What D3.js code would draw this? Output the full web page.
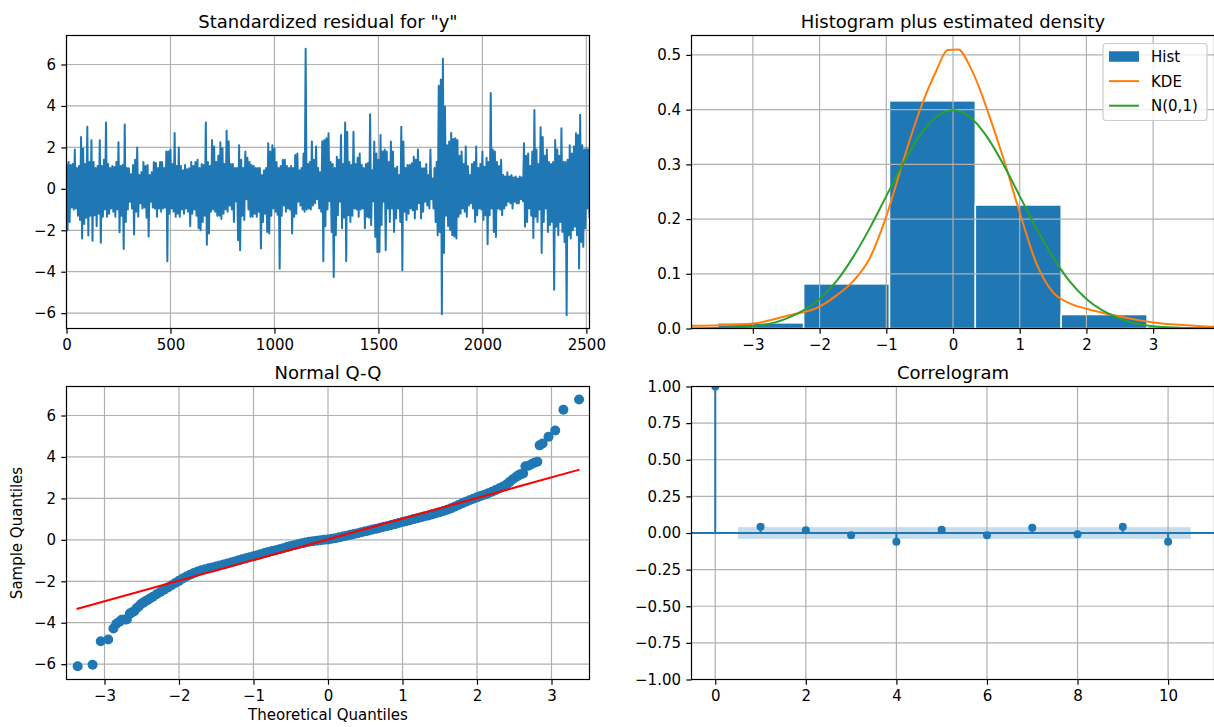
<!DOCTYPE html>
<html>
<head>
<meta charset="utf-8">
<script src="https://cdn.jsdelivr.net/npm/d3@7"></script>
<style>
  body { margin: 0; background: #fff; }
  text { font-family: "DejaVu Sans", sans-serif; fill: #000; }
</style>
</head>
<body>
<div id="fig"></div>
<script>
var residStep = 10;
var residHi = [
  1.2, 1.3, 1.15, 1.2, 1.9, 1.0, 1.1, 2.5, 1.95, 1.2,
  3.0, 1.3, 2.35, 1.3, 1.0, 1.1, 2.35, 1.1, 1.4, 3.2,
  1.2, 1.0, 1.1, 1.05, 1.3, 2.25, 1.1, 1.15, 3.1, 1.0,
  0.99, 0.7, 1.15, 1.4, 2.0, 0.67, 0.8, 1.3, 1.1, 1.15,
  0.67, 0.8, 1.3, 1.25, 1.0, 1.3, 1.3, 1.0, 1.8, 1.8,
  1.9, 1.2, 2.7, 1.1, 2.0, 1.1, 0.9, 1.15, 0.95, 0.99,
  1.3, 1.1, 1.3,
  1.4, 1.0, 1.2, 1.15, 3.2, 1.3, 1.1, 2.36, 2.04, 1.3,
  1.6, 2.25, 1.96, 1.2, 2.8, 2.3, 1.2, 1.2, 1.0, 1.0,
  2.1, 1.4, 1.0, 1.8, 1.5, 1.3, 1.15, 1.1, 1.0, 1.0,
  1.0, 0.67, 0.9, 1.0, 2.2, 1.8, 2.1, 1.95, 1.3, 1.0,
  1.1, 1.4, 1.4, 1.1, 1.0, 1.1, 1.0, 1.63, 1.7, 0.9,
  1.0, 1.7, 6.76, 1.2, 1.3, 2.28, 1.4, 2.04, 1.0, 0.8,
  2.3, 2.36,
  2.44, 2.68, 1.3, 1.2, 1.0,
  1.55, 1.4, 2.6, 1.2, 3.2, 2.76, 1.3, 1.15, 2.76, 1.2,
  1.5, 1.7, 1.15, 1.0, 1.2, 1.25, 3.6, 0.9, 2.28, 1.7,
  1.4, 2.6, 1.8, 1.9, 1.8, 1.3, 2.28, 1.8, 0.99, 1.07,
  0.67, 3.0, 2.28, 1.0, 1.15, 1.15, 1.23, 1.55, 1.4, 1.9,
  1.3, 0.99, 0.99, 1.2, 0.67, 1.9, 0.5, 1.0, 1.3, 4.97,
  5.28, 6.28, 3.97, 2.1, 2.28, 2.7, 2.4, 2.44,
  2.36, 1.6,
  1.8, 1.2, 2.04, 1.1, 0.67, 1.2, 1.3, 2.04, 1.0, 1.2,
  1.8, 1.07, 1.5, 1.3, 4.62, 1.9, 1.8, 1.3, 1.1, 1.4,
  0.67, 0.6, 0.8, 0.6, 0.67, 0.55, 0.6, 0.5, 0.6, 0.55,
  2.2, 1.6, 1.7, 1.1, 1.8, 3.8, 1.9, 1.2, 2.97, 2.5,
  1.6, 1.9, 1.3, 1.2, 1.3, 2.36, 1.9, 1.6, 2.92, 1.3,
  1.3, 1.4, 2.1, 1.7, 2.04, 2.68, 2.6, 3.57, 2.1, 1.9,
  1.96, 1.9
];
var residLo = [
  -2.0, -1.6, -0.9, -1.0, -0.95, -1.3, -1.5, -2.4, -1.7, -1.4,
  -2.25, -1.3, -2.5, -1.27, -1.8, -1.2, -2.6, -1.35, -1.0, -1.35,
  -1.2, -0.95, -1.1, -1.35, -1.0, -2.1, -1.3, -2.9, -1.6, -1.0,
  -0.62, -0.95, -2.2, -1.1, -1.35, -0.7, -0.95, -0.9, -1.4, -2.3,
  -0.62, -0.9, -0.95, -1.35, -0.95, -1.1, -0.95, -0.9, -3.5, -1.2,
  -0.95, -1.1, -1.35, -1.2, -1.35, -1.0, -1.2, -0.95, -1.1, -1.8,
  -1.2, -1.0, -1.3,
  -1.9, -2.0, -1.6, -1.3, -2.7, -2.16, -1.1, -1.0, -1.1, -1.3,
  -1.3, -1.45, -1.2, -1.0, -1.1, -0.8, -1.0, -1.6, -0.6, -2.48,
  -2.96, -1.3, -1.5, -0.5, -1.0, -1.35, -1.35, -1.2, -1.35, -1.1,
  -2.88, -1.6, -1.2, -2.08, -2.16, -1.3, -0.95, -1.1, -1.25, -3.85,
  -1.3, -0.8, -1.1, -0.95, -1.0, -2.16, -1.35, -1.2, -0.62, -0.8,
  -1.0, -1.1, -1.0, -0.95, -1.0, -0.8, -0.7, -0.5, -0.95, -1.1,
  -3.5, -1.8,
  -1.0, -0.6, -2.08, -4.25, -2.24,
  -1.27, -0.62, -1.9, -1.4, -3.5, -1.27, -1.6, -1.3, -0.95, -1.0,
  -1.35, -1.0, -0.95, -1.9, -1.35, -1.4, -1.75, -0.6, -2.32, -3.05,
  -3.05, -1.75, -0.62, -2.96, -0.95, -1.6, -0.95, -2.08, -1.43, -0.95,
  -1.6, -3.93, -1.1, -1.5, -1.2, -0.95, -1.03, -1.43, -1.0, -0.7,
  -1.43, -1.1, -0.62, -0.8, -0.95, -0.5, -0.95, -1.6, -2.24, -2.08,
  -6.05, -3.1, -1.3, -1.8, -2.0, -2.24, -2.3, -2.4,
  -1.35, -1.2,
  -0.95, -1.1, -1.35, -0.8, -0.7, -0.95, -1.6, -1.27, -0.95, -1.0,
  -1.5, -1.27, -2.67, -1.27, -0.95, -2.08, -2.32, -0.95, -1.0, -1.27,
  -0.95, -0.8, -0.62, -0.7, -0.95, -0.62, -0.7, -0.7, -0.5, -0.6,
  -1.83, -1.6, -0.95, -1.3, -2.37, -1.35, -1.6, -1.0, -3.1, -1.6,
  -0.95, -2.08, -1.75, -1.6, -4.87, -1.83, -2.24, -1.6, -2.08, -2.56,
  -6.1, -2.24, -2.4, -2.0, -1.83, -2.24, -3.85, -2.56, -2.8, -1.9,
  -0.95, -1.4
];

// Histogram (density) and curves
var histEdges = [-6.10, -4.813, -3.526, -2.239, -0.952, 0.335, 1.622, 2.909, 4.196, 5.483, 6.77];
var histDensity = [0.0006, 0.0022, 0.0103, 0.0815, 0.416, 0.2257, 0.0255, 0.0035, 0.0012, 0.0009];
var kdeX = [-3.92, -3.5, -3.0, -2.5, -2.0, -1.75, -1.5, -1.25, -1.0, -0.75, -0.5, -0.25, -0.08,
            0.08, 0.25, 0.4, 0.5, 0.75, 1.0, 1.25, 1.5, 1.75, 2.0, 2.5, 3.0, 3.5, 3.92];
var kdeY = [0.005, 0.006, 0.009, 0.023, 0.040, 0.060, 0.086, 0.128, 0.205, 0.305, 0.398, 0.471, 0.509,
            0.51, 0.48, 0.438, 0.404, 0.313, 0.212, 0.119, 0.066, 0.046, 0.036, 0.022, 0.011, 0.006, 0.003];
var normX = [-3.92, -3.5, -3.0, -2.5, -2.0, -1.75, -1.5, -1.25, -1.0, -0.75, -0.5, -0.25, 0,
             0.25, 0.5, 0.75, 1.0, 1.25, 1.5, 1.75, 2.0, 2.5, 3.0, 3.5, 3.92];
var normY = [0.0002, 0.0009, 0.004, 0.018, 0.054, 0.086, 0.13, 0.183, 0.242, 0.301, 0.352, 0.387, 0.399,
             0.387, 0.352, 0.301, 0.242, 0.183, 0.13, 0.086, 0.054, 0.018, 0.004, 0.0009, 0.0002];

// Normal Q-Q points
var qqTheo = [
  -3.36, -3.16, -3.05, -2.95, -2.88, -2.84, -2.80, -2.77, -2.73, -2.70,
  -2.66, -2.63, -2.60, -2.57, -2.54, -2.51, -2.48, -2.45, -2.42, -2.39,
  -2.35, -2.30, -2.25, -2.20, -2.15, -2.10, -2.05, -2.00, -1.95, -1.90,
  -1.85, -1.80, -1.75, -1.70, -1.65, -1.60, -1.55, -1.50, -1.45, -1.40,
  -1.35, -1.30, -1.25, -1.20, -1.15, -1.10, -1.05, -1.00, -0.95, -0.90,
  -0.85, -0.80, -0.75, -0.70, -0.65, -0.60, -0.55, -0.50, -0.45, -0.40,
  -0.35, -0.30, -0.25, -0.20, -0.15, -0.10, -0.05, 0.00, 0.05, 0.10,
  0.15, 0.20, 0.25, 0.30, 0.35, 0.40, 0.45, 0.50, 0.55, 0.60,
  0.65, 0.70, 0.75, 0.80, 0.85, 0.90, 0.95, 1.00, 1.05, 1.10,
  1.15, 1.20, 1.25, 1.30, 1.35, 1.40, 1.45, 1.50, 1.55, 1.60,
  1.65, 1.70, 1.75, 1.80, 1.85, 1.90, 1.95, 2.00, 2.05, 2.10,
  2.15, 2.20, 2.25, 2.30, 2.35, 2.40, 2.44, 2.48, 2.52, 2.55,
  2.58, 2.62, 2.65, 2.69, 2.73, 2.77, 2.81, 2.84, 2.88, 2.96,
  3.05, 3.16, 3.37
];
var qqSample = [
  -6.10, -6.03, -4.89, -4.81, -4.28, -4.05, -3.95, -3.86, -3.84, -3.84,
  -3.56, -3.50, -3.45, -3.30, -3.22, -3.10, -3.03, -2.96, -2.90, -2.83,
  -2.75, -2.63, -2.52, -2.41, -2.30, -2.19, -2.08, -1.98, -1.87, -1.77,
  -1.68, -1.60, -1.53, -1.47, -1.42, -1.37, -1.33, -1.29, -1.24, -1.19,
  -1.14, -1.09, -1.04, -0.99, -0.94, -0.89, -0.84, -0.79, -0.74, -0.69,
  -0.64, -0.59, -0.54, -0.50, -0.45, -0.40, -0.35, -0.30, -0.26, -0.21,
  -0.17, -0.13, -0.09, -0.07, -0.04, -0.02, 0.00, 0.02, 0.05, 0.08,
  0.12, 0.16, 0.20, 0.24, 0.28, 0.32, 0.37, 0.41, 0.45, 0.50,
  0.54, 0.58, 0.63, 0.67, 0.72, 0.76, 0.81, 0.86, 0.90, 0.95,
  1.00, 1.04, 1.09, 1.14, 1.18, 1.23, 1.28, 1.33, 1.39, 1.45,
  1.52, 1.60, 1.68, 1.76, 1.84, 1.91, 1.98, 2.05, 2.12, 2.18,
  2.25, 2.32, 2.40, 2.49, 2.58, 2.68, 2.80, 2.92, 3.02, 3.10,
  3.16, 3.20, 3.55, 3.58, 3.65, 3.72, 3.77, 4.56, 4.65, 4.97,
  5.28, 6.28, 6.77
];
var qqLineX = [-3.375, 3.375];
var qqLineY = [-3.34, 3.39];

// Correlogram
var acfLags = [0, 1, 2, 3, 4, 5, 6, 7, 8, 9, 10];
var acfVals = [1, 0.043, 0.018, -0.016, -0.059, 0.023, -0.016, 0.036, -0.009, 0.043, -0.059];
var acfBandX = [0.5, 10.5];
var acfConf = 0.04;

// Tick values
var residTicksX = [0, 500, 1000, 1500, 2000, 2500];
var sixTicks = [-6, -4, -2, 0, 2, 4, 6];
var histTicksX = [-3, -2, -1, 0, 1, 2, 3];
var histTicksY = [0, 0.1, 0.2, 0.3, 0.4, 0.5];
var qqTicksX = [-3, -2, -1, 0, 1, 2, 3];
var acfTicksX = [0, 2, 4, 6, 8, 10];
var acfTicksY = [-1, -0.75, -0.5, -0.25, 0, 0.25, 0.5, 0.75, 1];

var blue = "#1f77b4", orange = "#ff7f0e", green = "#2ca02c";

var svg = d3.select("#fig").append("svg")
    .attr("width", 1214)
    .attr("height", 727);
svg.append("rect").attr("width", 1214).attr("height", 727).attr("fill", "#fff");

var W = 523, H = 293;

// Draw one axes frame; returns layers for patches (below grid) and lines (above grid)
function panel(id, left, top, x, y, xt, yt, xf, yf, title) {
  var g = svg.append("g").attr("transform", "translate(" + left + "," + top + ")");
  g.append("clipPath").attr("id", id).append("rect").attr("width", W).attr("height", H);
  var back = g.append("g").attr("clip-path", "url(#" + id + ")");
  var grid = g.append("g");
  xt.forEach(function(v) {
    grid.append("line").attr("x1", x(v)).attr("x2", x(v)).attr("y1", 0).attr("y2", H);
  });
  yt.forEach(function(v) {
    grid.append("line").attr("x1", 0).attr("x2", W).attr("y1", y(v)).attr("y2", y(v));
  });
  grid.selectAll("line").attr("stroke", "#b0b0b0").attr("stroke-width", 1.2);
  var front = g.append("g").attr("clip-path", "url(#" + id + ")");

  var ax = g.append("g")
      .attr("transform", "translate(0," + H + ")")
      .call(d3.axisBottom(x).tickValues(xt).tickFormat(xf).tickSize(5.25).tickPadding(5.25));
  var ay = g.append("g")
      .call(d3.axisLeft(y).tickValues(yt).tickFormat(yf).tickSize(5.25).tickPadding(5.25));
  [ax, ay].forEach(function(a) {
    a.select(".domain").remove();
    a.selectAll("line").attr("stroke", "#000").attr("stroke-width", 1.2);
    a.selectAll("text").attr("font-size", 15);
  });
  g.append("rect")
      .attr("width", W).attr("height", H)
      .attr("fill", "none").attr("stroke", "#000").attr("stroke-width", 1.2);
  g.append("text")
      .attr("x", W / 2).attr("y", -7.5)
      .attr("text-anchor", "middle")
      .attr("font-size", 18)
      .text(title);
  return {g: g, back: back, front: front};
}

var fmtInt = d3.format("d");

// ---- Standardized residual ----
var x1 = d3.scaleLinear().domain([0, 2515]).range([0, W]);
var y1 = d3.scaleLinear().domain([-6.74, 7.40]).range([H, 0]);
var p1 = panel("c1", 66.5, 35.5, x1, y1, residTicksX, sixTicks, fmtInt, fmtInt,
               "Standardized residual for \"y\"");
var residPts = [];
residHi.forEach(function(v, i) {
  residPts.push([i * residStep, v]);
  residPts.push([i * residStep + residStep / 2, residLo[i]]);
});
p1.front.append("path")
    .datum(residPts)
    .attr("fill", "none")
    .attr("stroke", blue)
    .attr("stroke-width", 2)
    .attr("stroke-linejoin", "round")
    .attr("d", d3.line().x(function(d) { return x1(d[0]); }).y(function(d) { return y1(d[1]); }));

// ---- Histogram plus estimated density ----
var x2 = d3.scaleLinear().domain([-3.92, 3.92]).range([0, W]);
var y2 = d3.scaleLinear().domain([0, 0.5355]).range([H, 0]);
var p2 = panel("c2", 691.5, 35.5, x2, y2, histTicksX, histTicksY, fmtInt, d3.format(".1f"),
               "Histogram plus estimated density");
p2.back.selectAll("rect")
    .data(histDensity)
  .enter().append("rect")
    .attr("x", function(d, i) { return x2(histEdges[i]); })
    .attr("width", function(d, i) { return x2(histEdges[i + 1]) - x2(histEdges[i]); })
    .attr("y", function(d) { return y2(d); })
    .attr("height", function(d) { return y2(0) - y2(d); })
    .attr("fill", blue)
    .attr("stroke", "#fff")
    .attr("stroke-width", 1.5);
var curve2 = d3.line()
    .x(function(d) { return x2(d[0]); })
    .y(function(d) { return y2(d[1]); })
    .curve(d3.curveMonotoneX);
p2.front.append("path")
    .datum(kdeX.map(function(v, i) { return [v, kdeY[i]]; }))
    .attr("fill", "none").attr("stroke", orange).attr("stroke-width", 2)
    .attr("d", curve2);
p2.front.append("path")
    .datum(normX.map(function(v, i) { return [v, normY[i]]; }))
    .attr("fill", "none").attr("stroke", green).attr("stroke-width", 2)
    .attr("d", curve2);

// legend
var leg = p2.g.append("g").attr("transform", "translate(411.5,8)");
leg.append("rect")
    .attr("width", 104).attr("height", 77).attr("rx", 3)
    .attr("fill", "#fff").attr("fill-opacity", 0.8)
    .attr("stroke", "#cccccc").attr("stroke-width", 1.2);
var legItems = [
  {label: "Hist", kind: "patch", color: blue},
  {label: "KDE", kind: "line", color: orange},
  {label: "N(0,1)", kind: "line", color: green}
];
legItems.forEach(function(d, i) {
  var cy = 13 + i * 24.6;
  if (d.kind === "patch") {
    leg.append("rect").attr("x", 6).attr("y", cy - 5.25).attr("width", 30).attr("height", 10.5)
        .attr("fill", d.color);
  } else {
    leg.append("line").attr("x1", 6).attr("x2", 36).attr("y1", cy).attr("y2", cy)
        .attr("stroke", d.color).attr("stroke-width", 2);
  }
  leg.append("text").attr("x", 48).attr("y", cy).attr("dy", "0.36em")
      .attr("font-size", 15).text(d.label);
});

// ---- Normal Q-Q ----
var x3 = d3.scaleLinear().domain([-3.51, 3.51]).range([0, W]);
var y3 = d3.scaleLinear().domain([-6.74, 7.40]).range([H, 0]);
var p3 = panel("c3", 66.5, 386.5, x3, y3, qqTicksX, sixTicks, fmtInt, fmtInt, "Normal Q-Q");
p3.front.selectAll("circle")
    .data(qqTheo)
  .enter().append("circle")
    .attr("cx", function(d) { return x3(d); })
    .attr("cy", function(d, i) { return y3(qqSample[i]); })
    .attr("r", 5)
    .attr("fill", blue);
p3.front.append("line")
    .attr("x1", x3(qqLineX[0])).attr("y1", y3(qqLineY[0]))
    .attr("x2", x3(qqLineX[1])).attr("y2", y3(qqLineY[1]))
    .attr("stroke", "#ff0000").attr("stroke-width", 2);
p3.g.append("text")
    .attr("x", W / 2).attr("y", 333.5)
    .attr("text-anchor", "middle").attr("font-size", 15)
    .text("Theoretical Quantiles");
p3.g.append("text")
    .attr("transform", "translate(-45," + (H / 2) + ") rotate(-90)")
    .attr("text-anchor", "middle").attr("font-size", 15)
    .text("Sample Quantiles");

// ---- Correlogram ----
var x4 = d3.scaleLinear().domain([-0.525, 11.025]).range([0, W]);
var y4 = d3.scaleLinear().domain([-1, 1]).range([H, 0]);
var p4 = panel("c4", 691.5, 386.5, x4, y4, acfTicksX, acfTicksY, fmtInt, d3.format(".2f"), "Correlogram");
p4.back.append("rect")
    .attr("x", x4(acfBandX[0]))
    .attr("width", x4(acfBandX[1]) - x4(acfBandX[0]))
    .attr("y", y4(acfConf))
    .attr("height", y4(-acfConf) - y4(acfConf))
    .attr("fill", blue).attr("fill-opacity", 0.25);
p4.front.selectAll(".stem")
    .data(acfVals)
  .enter().append("line")
    .attr("class", "stem")
    .attr("x1", function(d, i) { return x4(acfLags[i]); })
    .attr("x2", function(d, i) { return x4(acfLags[i]); })
    .attr("y1", y4(0))
    .attr("y2", function(d) { return y4(d); })
    .attr("stroke", blue).attr("stroke-width", 2);
p4.front.append("line")
    .attr("x1", 0).attr("x2", W).attr("y1", y4(0)).attr("y2", y4(0))
    .attr("stroke", blue).attr("stroke-width", 2);
p4.front.selectAll("circle")
    .data(acfVals)
  .enter().append("circle")
    .attr("cx", function(d, i) { return x4(acfLags[i]); })
    .attr("cy", function(d) { return y4(d); })
    .attr("r", 4)
    .attr("fill", blue);
</script>
</body>
</html>
